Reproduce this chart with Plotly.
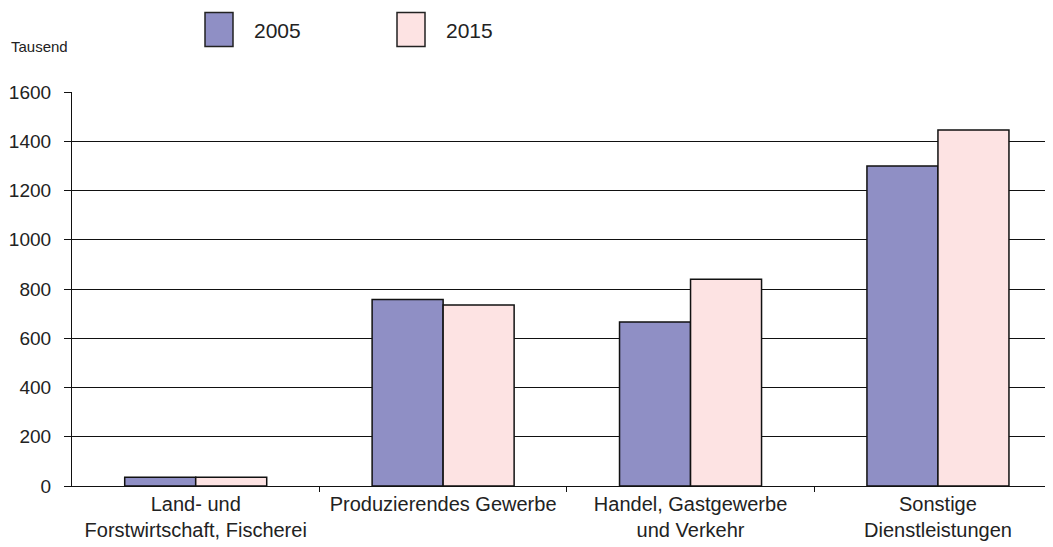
import plotly.graph_objects as go

categories = ["Land- und<br>Forstwirtschaft, Fischerei", "Produzierendes Gewerbe",
              "Handel, Gastgewerbe<br>und Verkehr", "Sonstige<br>Dienstleistungen"]
values_2005 = [36, 757, 666, 1300]
values_2015 = [36, 735, 840, 1446]
series_names = ["2005", "2015"]
y_ticks = [0, 200, 400, 600, 800, 1000, 1200, 1400, 1600]
grid_vals = [200, 400, 600, 800, 1000, 1200, 1400]

col_2005 = "#8f8fc5"
col_2015 = "#fde3e3"
font_family = "Liberation Sans, Arial, sans-serif"

# page body has an 8px margin; compensate
OFF = 8
L, T, B = 72 - OFF, 92 - OFF, 61
W, H = 1053 - OFF, 547 - OFF
PW = W - L            # plot width in px
PH = H - T - B        # plot height in px
px_x0 = 72            # screen x of plot left
px_y1 = 485.5         # screen y of plot bottom

fig = go.Figure()
fig.add_trace(go.Bar(x=list(range(len(categories))), y=values_2005, name=series_names[0],
                     marker=dict(color=col_2005, line=dict(color="#111", width=1.5)),
                     showlegend=False))
fig.add_trace(go.Bar(x=list(range(len(categories))), y=values_2015, name=series_names[1],
                     marker=dict(color=col_2015, line=dict(color="#111", width=1.5)),
                     showlegend=False))

fig.update_layout(
    width=W, height=H,
    margin=dict(l=L, r=0, t=T, b=B),
    paper_bgcolor="white", plot_bgcolor="white",
    barmode="group", bargap=0.426, bargroupgap=0,
    font=dict(family=font_family, color="#222"),
)
fig.update_xaxes(
    range=[-0.5, 3.465], tickmode="array", tickvals=list(range(len(categories))),
    ticktext=categories, showline=True, linecolor="#111", linewidth=1.2,
    showgrid=False, ticks="", tickfont=dict(size=20),
    minor=dict(tickmode="array", tickvals=[0.5, 1.5, 2.5], ticks="outside",
               ticklen=5, tickcolor="#111", showgrid=False),
)
fig.update_yaxes(
    range=[0, 1600], tickmode="array", tickvals=y_ticks, showline=True,
    linecolor="#111", linewidth=1.2, ticks="outside", ticklen=7, tickcolor="#111",
    showgrid=False, zeroline=False, tickfont=dict(size=19), ticklabelstandoff=9,
    minor=dict(tickmode="array", tickvals=grid_vals, showgrid=True,
               gridcolor="#111", gridwidth=1.2, ticks=""),
)


def px_to_paper_x(px):
    return (px - px_x0) / PW


def px_to_paper_y(py):
    return (px_y1 - py) / PH


# Custom legend (large boxes as in reference)
legend_items = [(series_names[0], col_2005, 205), (series_names[1], col_2015, 397)]
for name, col, x0 in legend_items:
    fig.add_shape(type="rect", xref="paper", yref="paper",
                  x0=px_to_paper_x(x0), x1=px_to_paper_x(x0 + 28),
                  y0=px_to_paper_y(46), y1=px_to_paper_y(12),
                  fillcolor=col, line=dict(color="#222", width=1.5))
    fig.add_annotation(text=name, xref="paper", yref="paper",
                       x=px_to_paper_x(x0 + 47), y=px_to_paper_y(30),
                       xanchor="left", yanchor="middle", showarrow=False,
                       font=dict(size=21, color="#222"))

fig.add_annotation(text="Tausend", xref="paper", yref="paper",
                   x=px_to_paper_x(9), y=px_to_paper_y(46),
                   xanchor="left", yanchor="middle", showarrow=False,
                   font=dict(size=15, color="#222"))

fig.write_html("out.html")
